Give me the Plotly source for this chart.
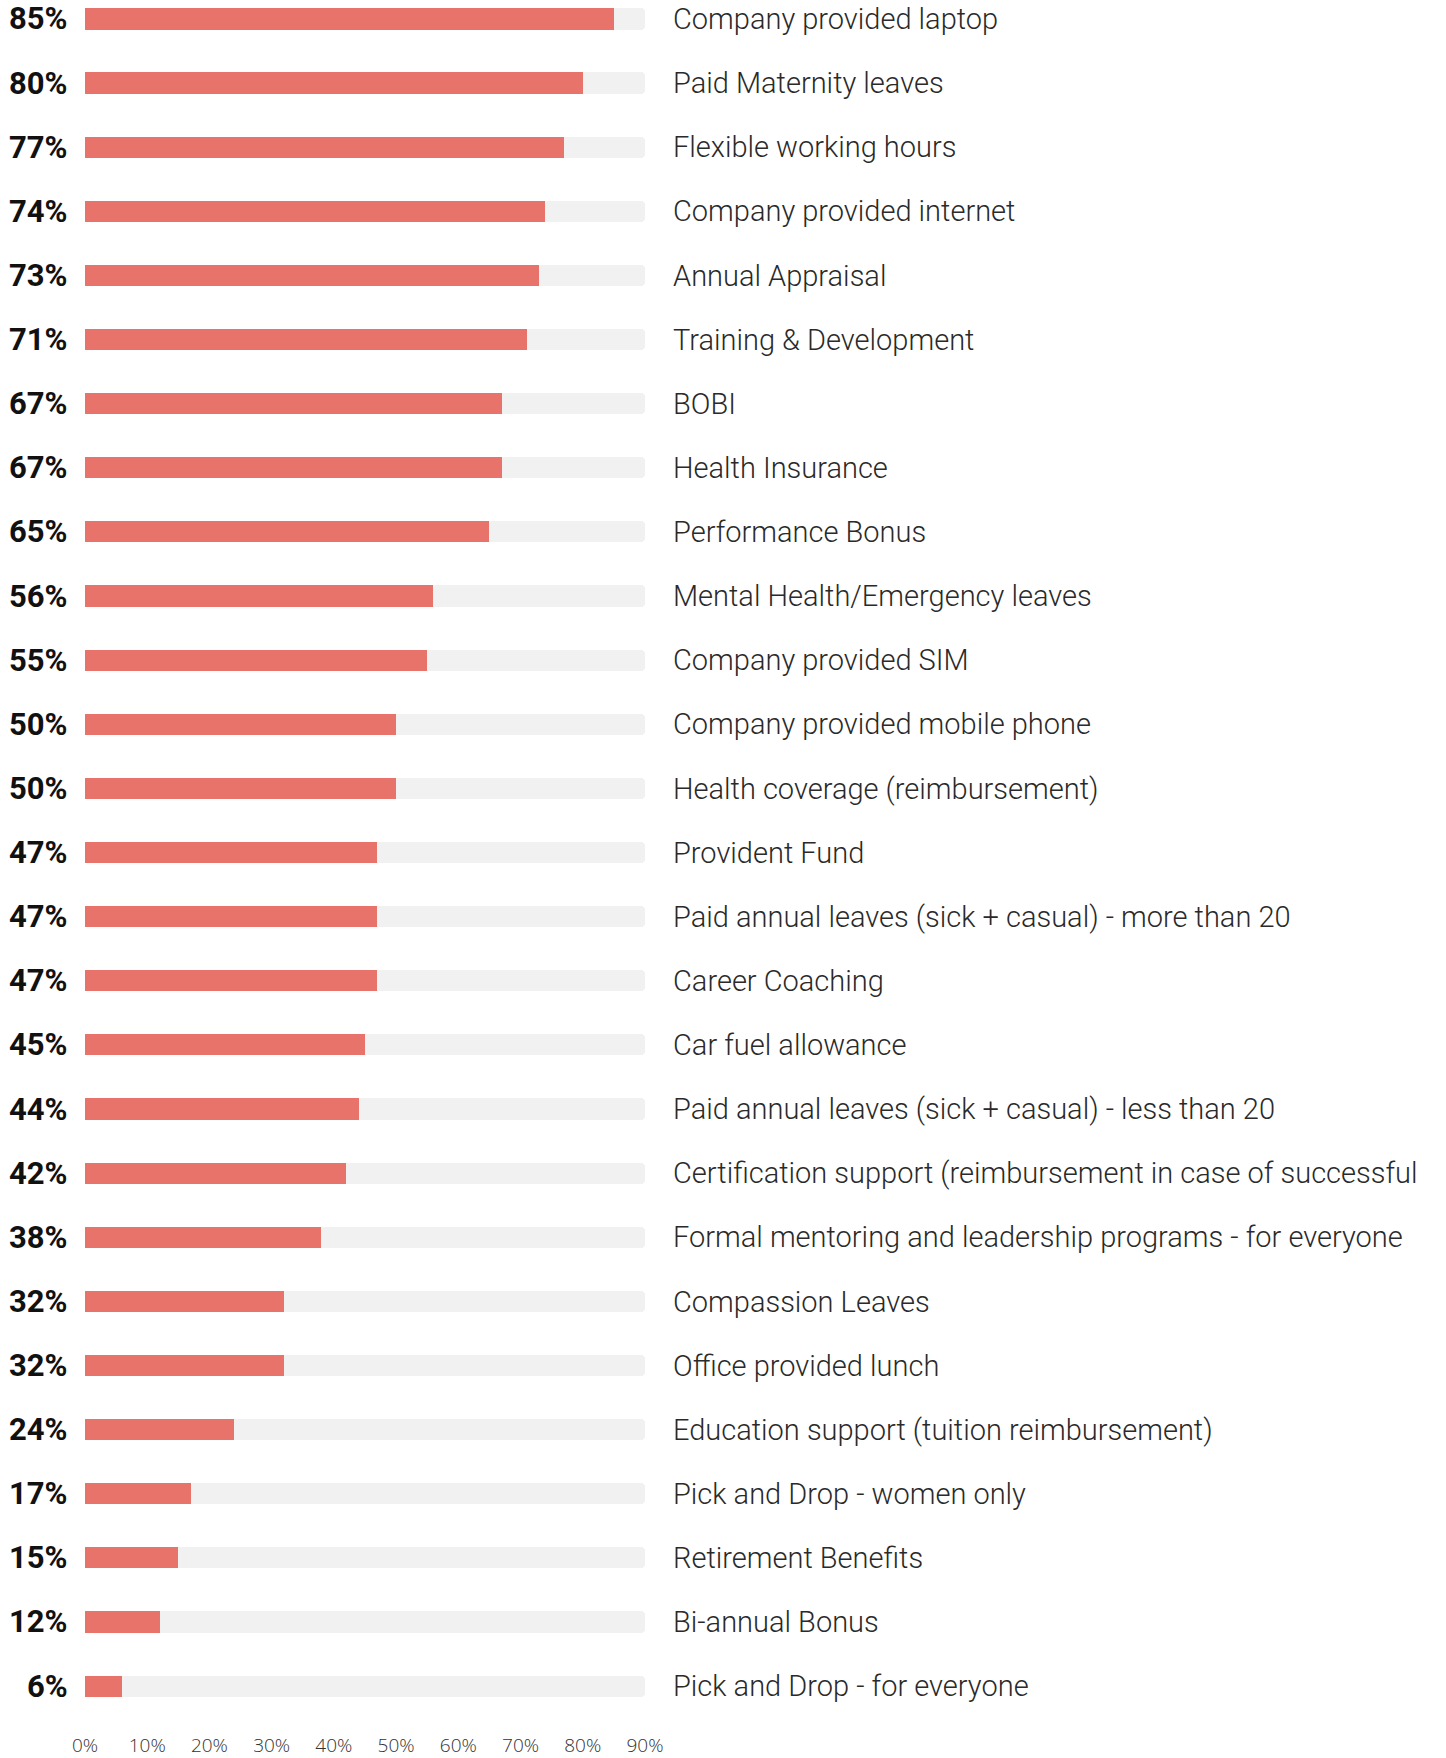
import plotly.graph_objects as go

# Share of companies offering each benefit (%)
benefits = [
    "Company provided laptop",
    "Paid Maternity leaves",
    "Flexible working hours",
    "Company provided internet",
    "Annual Appraisal",
    "Training & Development",
    "BOBI",
    "Health Insurance",
    "Performance Bonus",
    "Mental Health/Emergency leaves",
    "Company provided SIM",
    "Company provided mobile phone",
    "Health coverage (reimbursement)",
    "Provident Fund",
    "Paid annual leaves (sick + casual) - more than 20",
    "Career Coaching",
    "Car fuel allowance",
    "Paid annual leaves (sick + casual) - less than 20",
    "Certification support (reimbursement in case of successful",
    "Formal mentoring and leadership programs - for everyone",
    "Compassion Leaves",
    "Office provided lunch",
    "Education support (tuition reimbursement)",
    "Pick and Drop - women only",
    "Retirement Benefits",
    "Bi-annual Bonus",
    "Pick and Drop - for everyone",
]
shares = [85, 80, 77, 74, 73, 71, 67, 67, 65, 56, 55, 50, 50, 47, 47, 47,
          45, 44, 42, 38, 32, 32, 24, 17, 15, 12, 6]

x_max = 90
tick_vals = [0, 10, 20, 30, 40, 50, 60, 70, 80, 90]
tick_text = [f"{v}%" for v in tick_vals]

rows = list(range(len(benefits)))

fig = go.Figure()

# light grey track behind each bar
fig.add_trace(go.Bar(
    y=rows, x=[x_max] * len(rows), orientation="h",
    marker=dict(color="#f1f1f1", line=dict(width=0)),
    width=0.33, hoverinfo="skip", showlegend=False,
))

# value bars
fig.add_trace(go.Bar(
    y=rows, x=shares, orientation="h",
    marker=dict(color="#e8736a", line=dict(width=0)),
    width=0.33, customdata=benefits,
    hovertemplate="%{customdata}: %{x}%<extra></extra>",
    showlegend=False,
))

# bold percentage labels left of the bars
for r, v in zip(rows, shares):
    fig.add_annotation(
        x=0, xref="paper", xanchor="right", xshift=-15,
        y=r, yref="y", yanchor="middle", yshift=0,
        text=f"{v}%", showarrow=False,
        font=dict(family="Roboto", size=31, color="#111111", weight="bold"),
    )

fig.update_layout(
    width=1446, height=1758,
    margin=dict(l=85, r=801, t=0, b=38),
    paper_bgcolor="white", plot_bgcolor="white",
    barmode="overlay", barcornerradius=4,
    bargap=0,
)

fig.update_xaxes(
    range=[0, x_max], tickvals=tick_vals, ticktext=tick_text,
    showgrid=False, zeroline=False, showline=False, ticks="",
    tickfont=dict(family="Open Sans", size=19, color="#333333", weight=300),
    ticklabelstandoff=18, fixedrange=True,
)

fig.update_yaxes(
    range=[26.435, -0.295], tickvals=rows, ticktext=benefits,
    side="right", showgrid=False, zeroline=False, showline=False, ticks="",
    tickfont=dict(family="Roboto", size=29, color="#2a2a2a", weight=300),
    ticklabelstandoff=27, fixedrange=True,
)

fig.write_html("out.html")
